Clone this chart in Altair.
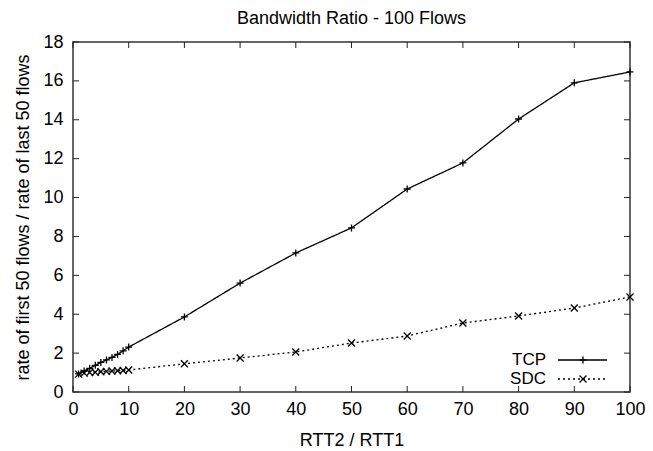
import altair as alt
import pandas as pd

FONT = "Liberation Sans"

x_vals = [1, 2, 3, 4, 5, 6, 7, 8, 9, 10, 20, 30, 40, 50, 60, 70, 80, 90, 100]
tcp_vals = [0.93, 1.08, 1.22, 1.37, 1.52, 1.65, 1.78, 1.93, 2.12, 2.31,
            3.86, 5.6, 7.15, 8.44, 10.44, 11.78, 14.04, 15.9, 16.46]
sdc_vals = [0.92, 0.97, 1.0, 1.02, 1.04, 1.06, 1.08, 1.09, 1.11, 1.13,
            1.45, 1.75, 2.06, 2.52, 2.88, 3.55, 3.91, 4.32, 4.89]
series_names = ["TCP", "SDC"]
x_ticks = [0, 10, 20, 30, 40, 50, 60, 70, 80, 90, 100]
y_ticks = [0, 2, 4, 6, 8, 10, 12, 14, 16, 18]

PLUS = "M-1,0L1,0M0,-1L0,1"
CROSS = "M-1,-1L1,1M-1,1L1,-1"

W, H = 557, 350
FS = 18

df = pd.DataFrame({
    "x": x_vals * 2,
    "y": tcp_vals + sdc_vals,
    "series": ["TCP"] * len(x_vals) + ["SDC"] * len(x_vals),
})
xt = pd.DataFrame({"x": x_ticks})
yt = pd.DataFrame({"y": y_ticks})

xscale = alt.Scale(domain=[0, 100], nice=False)
yscale = alt.Scale(domain=[0, 18], nice=False)

x_axis = alt.Axis(values=x_ticks, ticks=False, domain=False, grid=False,
                  labelOverlap=False, labelFlush=False,
                  labelPadding=8, titlePadding=13)
y_axis = alt.Axis(values=y_ticks, ticks=False, domain=False, grid=False,
                  labelOverlap=False, labelFlush=False,
                  labelPadding=10, titlePadding=10)
XT = "RTT2 / RTT1"
YT = "rate of first 50 flows / rate of last 50 flows"

def X():
    return alt.X("x:Q", scale=xscale, title=XT, axis=x_axis)

def Y():
    return alt.Y("y:Q", scale=yscale, title=YT, axis=y_axis)

dash_scale = alt.Scale(domain=series_names, range=[[1, 0], [2, 3]])
shape_scale = alt.Scale(domain=series_names, range=[PLUS, CROSS])

lines = alt.Chart(df).mark_line(color="black", strokeWidth=1.3).encode(
    x=X(), y=Y(),
    strokeDash=alt.StrokeDash("series:N", scale=dash_scale, legend=None),
    detail="series:N",
)
points = alt.Chart(df).mark_point(color="black", filled=False, size=49, strokeWidth=1.3, opacity=1).encode(
    x=X(), y=Y(),
    shape=alt.Shape("series:N", scale=shape_scale, legend=None),
)

tk = dict(color="#222", strokeWidth=1)
xb = alt.Chart(xt).mark_rule(**tk).encode(x=X(), y=alt.value(H), y2=alt.value(H - 6))
xtp = alt.Chart(xt).mark_rule(**tk).encode(x=X(), y=alt.value(0), y2=alt.value(6))
yl = alt.Chart(yt).mark_rule(**tk).encode(y=Y(), x=alt.value(0), x2=alt.value(6))
yr = alt.Chart(yt).mark_rule(**tk).encode(y=Y(), x=alt.value(W), x2=alt.value(W - 6))

legend_layers = []
for i, name in enumerate(series_names):
    yy = 318 + 19 * i
    d = alt.Data(values=[{"label": name}])
    legend_layers.append(
        alt.Chart(d).mark_text(align="right", baseline="middle", font=FONT, fontSize=17, color="black").encode(
            text="label:N", x=alt.value(473), y=alt.value(yy))
    )
    legend_layers.append(
        alt.Chart(d).mark_rule(color="black", strokeWidth=1.3,
                               strokeDash=[1, 0] if i == 0 else [2, 3]).encode(
            x=alt.value(485), x2=alt.value(534), y=alt.value(yy))
    )
    legend_layers.append(
        alt.Chart(d).mark_point(color="black", filled=False, size=49, strokeWidth=1.3, opacity=1,
                                shape=PLUS if i == 0 else CROSS).encode(
            x=alt.value(510), y=alt.value(yy))
    )

chart = alt.layer(lines, points, xb, xtp, yl, yr, *legend_layers).properties(
    width=W, height=H,
    autosize="none",
    padding={"left": 65, "top": 34, "right": 15, "bottom": 56},
    title=alt.TitleParams("Bandwidth Ratio - 100 Flows", font=FONT, fontSize=FS,
                          fontWeight="normal", anchor="middle", offset=5, color="black"),
).configure_view(
    stroke="#333", strokeWidth=1.5
).configure_axis(
    labelFont=FONT, titleFont=FONT, labelFontSize=FS, titleFontSize=FS,
    titleFontWeight="normal", labelColor="black", titleColor="black",
)

chart.save("out.html", embed_options={"renderer": "svg", "actions": False})
